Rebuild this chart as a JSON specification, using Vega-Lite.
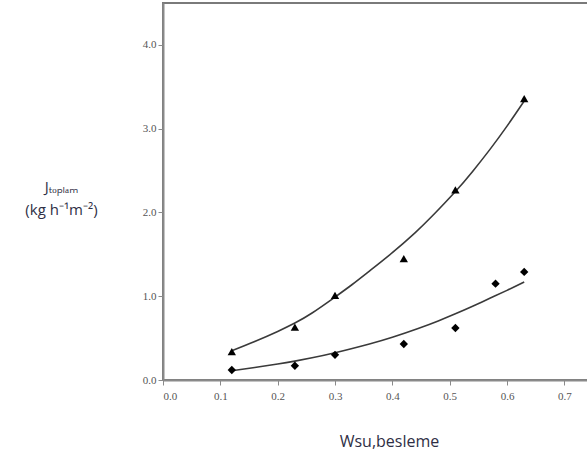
{
  "$schema": "https://vega.github.io/schema/vega-lite/v6.json",
  "autosize": {"type": "none"},
  "padding": {"left": 163, "top": 3, "right": 0, "bottom": 80},
  "width": 430,
  "height": 377,
  "background": "white",
  "config": {
    "view": {"stroke": "#7a7a7a", "strokeWidth": 2},
    "axis": {
      "domainColor": "#8a8a8a",
      "domainWidth": 2,
      "tickColor": "#8a8a8a",
      "tickWidth": 1,
      "tickSize": 5,
      "grid": false,
      "labelFont": "Liberation Serif, Times New Roman, serif",
      "labelFontSize": 11,
      "labelColor": "#555555",
      "titleFont": "Open Sans",
      "titleFontWeight": "normal",
      "titleColor": "#2f2f45"
    }
  },
  "datasets": {
    "olcum": [
      {"seri": "1", "w": 0.12, "j": 0.34},
      {"seri": "1", "w": 0.23, "j": 0.63},
      {"seri": "1", "w": 0.30, "j": 1.01},
      {"seri": "1", "w": 0.42, "j": 1.45},
      {"seri": "1", "w": 0.51, "j": 2.27},
      {"seri": "1", "w": 0.63, "j": 3.36},
      {"seri": "2", "w": 0.12, "j": 0.12},
      {"seri": "2", "w": 0.23, "j": 0.17},
      {"seri": "2", "w": 0.30, "j": 0.30},
      {"seri": "2", "w": 0.42, "j": 0.43},
      {"seri": "2", "w": 0.51, "j": 0.62},
      {"seri": "2", "w": 0.58, "j": 1.15},
      {"seri": "2", "w": 0.63, "j": 1.29}
    ],
    "egri": [
      {"seri": "1", "w": 0.12, "j": 0.35},
      {"seri": "1", "w": 0.16, "j": 0.46},
      {"seri": "1", "w": 0.20, "j": 0.58},
      {"seri": "1", "w": 0.23, "j": 0.68},
      {"seri": "1", "w": 0.26, "j": 0.80},
      {"seri": "1", "w": 0.30, "j": 0.99},
      {"seri": "1", "w": 0.33, "j": 1.14},
      {"seri": "1", "w": 0.36, "j": 1.30},
      {"seri": "1", "w": 0.40, "j": 1.52},
      {"seri": "1", "w": 0.44, "j": 1.76},
      {"seri": "1", "w": 0.47, "j": 1.96},
      {"seri": "1", "w": 0.51, "j": 2.25},
      {"seri": "1", "w": 0.54, "j": 2.49},
      {"seri": "1", "w": 0.57, "j": 2.75},
      {"seri": "1", "w": 0.60, "j": 3.03},
      {"seri": "1", "w": 0.63, "j": 3.33},
      {"seri": "2", "w": 0.12, "j": 0.11},
      {"seri": "2", "w": 0.16, "j": 0.15},
      {"seri": "2", "w": 0.20, "j": 0.19},
      {"seri": "2", "w": 0.23, "j": 0.225},
      {"seri": "2", "w": 0.26, "j": 0.265},
      {"seri": "2", "w": 0.30, "j": 0.325},
      {"seri": "2", "w": 0.36, "j": 0.43},
      {"seri": "2", "w": 0.40, "j": 0.51},
      {"seri": "2", "w": 0.445, "j": 0.615},
      {"seri": "2", "w": 0.48, "j": 0.705},
      {"seri": "2", "w": 0.51, "j": 0.79},
      {"seri": "2", "w": 0.54, "j": 0.88},
      {"seri": "2", "w": 0.57, "j": 0.975},
      {"seri": "2", "w": 0.60, "j": 1.07},
      {"seri": "2", "w": 0.63, "j": 1.17}
    ]
  },
  "encoding": {
    "x": {
      "field": "w",
      "type": "quantitative",
      "scale": {"domain": [0, 0.75], "nice": false, "zero": false},
      "axis": {
        "values": [0, 0.1, 0.2, 0.3, 0.4, 0.5, 0.6, 0.7],
        "format": ".1f",
        "labelPadding": 5,
        "title": "Wsu,besleme",
        "titleFontSize": 16,
        "titleAlign": "center",
        "titleBaseline": "alphabetic",
        "titleX": 226,
        "titleY": 66
      }
    },
    "y": {
      "field": "j",
      "type": "quantitative",
      "scale": {"domain": [0, 4.5], "nice": false},
      "axis": {
        "values": [0, 1, 2, 3, 4],
        "format": ".1f",
        "labelPadding": 2,
        "title": ["Jₜₒₚₗₐₘ", "(kg h⁻¹m⁻²)"],
        "titleFontSize": 15,
        "titleAngle": 0,
        "titleAlign": "center",
        "titleBaseline": "top",
        "titleLineHeight": 23,
        "titleX": -102,
        "titleY": 176
      }
    }
  },
  "layer": [
    {
      "data": {"name": "egri"},
      "mark": {"type": "line", "interpolate": "natural", "color": "#3a3a3a", "strokeWidth": 1.6},
      "encoding": {"detail": {"field": "seri"}}
    },
    {
      "data": {"name": "olcum"},
      "mark": {"type": "point", "filled": true, "color": "black", "opacity": 1},
      "encoding": {
        "shape": {
          "field": "seri",
          "type": "nominal",
          "scale": {"domain": ["1", "2"], "range": ["triangle-up", "diamond"]},
          "legend": null
        },
        "size": {
          "field": "seri",
          "type": "nominal",
          "scale": {"domain": ["1", "2"], "range": [70, 70]},
          "legend": null
        }
      }
    }
  ]
}
